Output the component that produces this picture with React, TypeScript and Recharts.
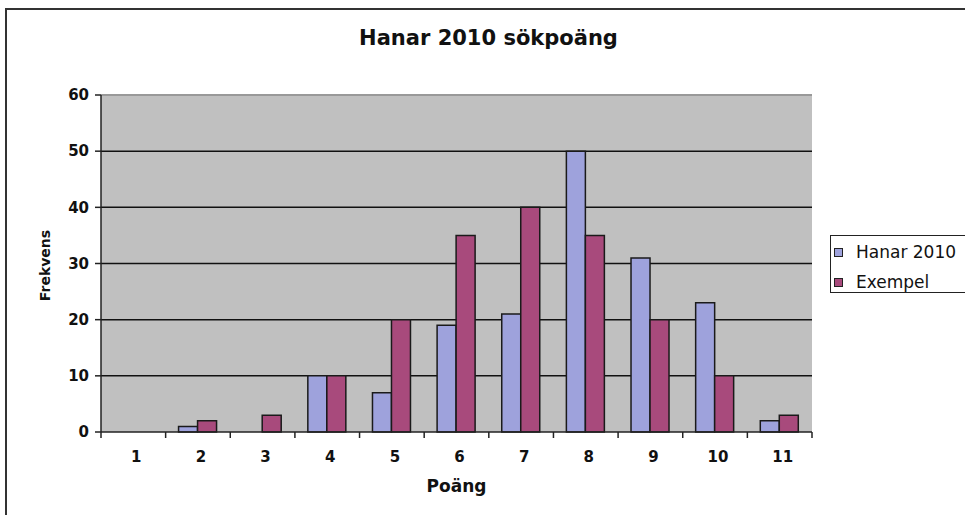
import { Bar, BarChart, CartesianGrid, ReferenceLine, XAxis, YAxis } from "recharts";

const categories = ["1", "2", "3", "4", "5", "6", "7", "8", "9", "10", "11"];
const hanar2010 = [0, 1, 0, 10, 7, 19, 21, 50, 31, 23, 2];
const exempel = [0, 2, 3, 10, 20, 35, 40, 35, 20, 10, 3];
const yTicks = [0, 10, 20, 30, 40, 50, 60];

const series = [
  { key: "hanar", name: "Hanar 2010", color: "#9ea2dc" },
  { key: "exempel", name: "Exempel", color: "#a84a7c" },
];

const data = categories.map((c, i) => ({ poang: c, hanar: hanar2010[i], exempel: exempel[i] }));

const font = "'DejaVu Sans', Verdana, sans-serif";

function CategoryTick(props: any) {
  const { x, y, payload, index } = props;
  const half = payload.offset ?? 0;
  const last = index === categories.length - 1;
  return (
    <g>
      <line x1={x - half} x2={x - half} y1={y - 8} y2={y - 2} stroke="#222" strokeWidth={1.5} />
      {last && <line x1={x + half} x2={x + half} y1={y - 8} y2={y - 2} stroke="#222" strokeWidth={1.5} />}
      <text x={x + 3} y={y + 22} textAnchor="middle" fontSize={15} fontWeight="bold" fill="#111" fontFamily={font}>
        {payload.value}
      </text>
    </g>
  );
}

function YLabel(props: any) {
  const { viewBox } = props;
  const cx = viewBox.x + 4;
  const cy = viewBox.y + viewBox.height / 2 + 2;
  return (
    <text
      x={cx}
      y={cy}
      transform={`rotate(-90 ${cx} ${cy})`}
      textAnchor="middle"
      dominantBaseline="central"
      fontSize={14}
      fontWeight="bold"
      fill="#111"
      fontFamily={font}
    >
      Frekvens
    </text>
  );
}

export default function App() {
  return (
    <div style={{ position: "absolute", left: 0, top: 0, width: 965, height: 515, background: "#fff", fontFamily: font, overflow: "hidden" }}>
      <div
        style={{
          position: "absolute",
          left: 5,
          top: 8,
          width: 980,
          height: 530,
          borderLeft: "2px solid #333",
          borderTop: "2px solid #333",
        }}
      />
      <div
        style={{
          position: "absolute",
          left: 6,
          width: 965,
          top: 26,
          textAlign: "center",
          fontSize: 21,
          fontWeight: "bold",
          color: "#111",
          whiteSpace: "nowrap",
        }}
      >
        Hanar 2010 sökpoäng
      </div>
      <BarChart
        width={965}
        height={515}
        data={data}
        margin={{ top: 95, right: 153, bottom: 43, left: 41 }}
        barCategoryGap="20%"
        barGap={0}
        style={{ position: "absolute", left: 0, top: 0 }}
      >
        <CartesianGrid
          fill="#c0c0c0"
          vertical={false}
          horizontalValues={[10, 20, 30, 40, 50]}
          stroke="#111"
          strokeWidth={1.5}
          strokeOpacity={1}
        />
        <ReferenceLine y={60} stroke="#999" strokeWidth={2} />
        <XAxis
          dataKey="poang"
          tick={<CategoryTick />}
          tickLine={false}
          axisLine={{ stroke: "#222", strokeWidth: 1.5 }}
          height={40}
          interval={0}
          label={{
            value: "Poäng",
            position: "insideBottom",
            offset: -20,
            fontSize: 17,
            fontWeight: "bold",
            fill: "#111",
            fontFamily: font,
          }}
        />
        <YAxis
          domain={[0, 60]}
          ticks={yTicks}
          width={60}
          tickSize={6}
          tickMargin={6}
          tickLine={{ stroke: "#222", strokeWidth: 1.5 }}
          axisLine={{ stroke: "#222", strokeWidth: 1.5 }}
          tick={{ fontSize: 15, fontWeight: "bold", fill: "#111", fontFamily: font }}
          label={<YLabel />}
        />
        <YAxis
          yAxisId="frame"
          orientation="right"
          width={0}
          tick={false}
          tickLine={false}
          axisLine={{ stroke: "#999", strokeWidth: 2 }}
        />
        {series.map((s) => (
          <Bar
            key={s.key}
            dataKey={s.key}
            name={s.name}
            fill={s.color}
            stroke="#1a1a1a"
            strokeWidth={1.5}
            isAnimationActive={false}
          />
        ))}
      </BarChart>
      <div
        style={{
          position: "absolute",
          left: 830,
          top: 235,
          width: 140,
          height: 58,
          border: "1.5px solid #222",
          background: "#fff",
          boxSizing: "border-box",
          padding: "1px 0 0 3px",
        }}
      >
        {series.map((s) => (
          <div key={s.key} style={{ display: "flex", alignItems: "center", height: 30, fontSize: 17, color: "#111", whiteSpace: "nowrap" }}>
            <span
              style={{
                display: "inline-block",
                width: 7,
                height: 7,
                background: s.color,
                border: "1.5px solid #222",
                marginRight: 13,
              }}
            />
            {s.name}
          </div>
        ))}
      </div>
    </div>
  );
}
